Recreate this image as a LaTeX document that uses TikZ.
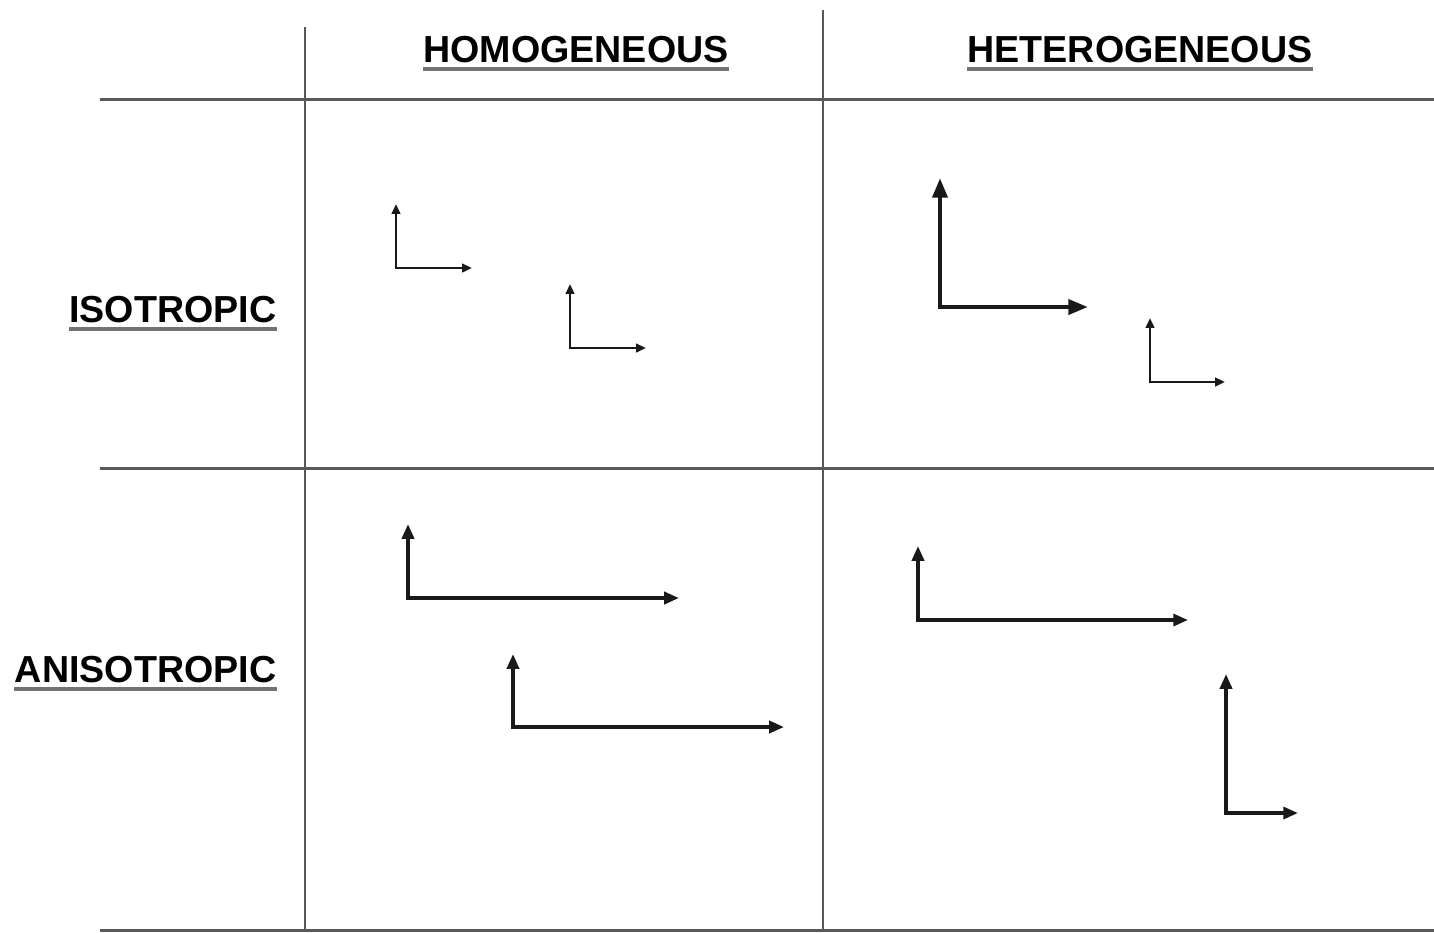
\documentclass[tikz,border=0pt]{standalone}
\usepackage{fontspec}
\setmainfont{Liberation Sans}
\usetikzlibrary{arrows.meta}
\tikzset{
  vrule/.style={black!65,line width=0.6pt},
  hrule/.style={black!65,line width=0.85pt},
  hdr/.style={font=\fontsize{10.7}{12}\selectfont\bfseries,inner sep=0pt},
  uline/.style={black!55,line width=1pt},
  thinax/.style={black!90,line width=0.7pt,
    arrows={Triangle[length=2.8pt,width=2.4pt]-Triangle[length=2.8pt,width=2.4pt]}},
  midax/.style={black!90,line width=1pt,
    arrows={Triangle[length=4.2pt,width=3.4pt]-Triangle[length=4.2pt,width=3.4pt]}},
  thickax/.style={black!90,line width=1.25pt,
    arrows={Triangle[length=5.6pt,width=4.2pt]-Triangle[length=5.6pt,width=4.2pt]}}
}
\begin{document}
\begin{tikzpicture}[x=0.01cm,y=-0.01cm]
  \useasboundingbox (0,0) rectangle (1434,932);
  % table rules
  \draw[hrule] (100,99) -- (1434,99);
  \draw[hrule] (100,468) -- (1434,468);
  \draw[hrule] (100,930) -- (1434,930);
  \draw[vrule] (305,27) -- (305,932);
  \draw[vrule] (823,10) -- (823,932);
  % headings
  \node[hdr,anchor=base] (hom) at (576,62) {HOMOGENEOUS};
  \node[hdr,anchor=base] (het) at (1140,62) {HETEROGENEOUS};
  \node[hdr,anchor=base east] (iso) at (277,322) {ISOTROPIC};
  \node[hdr,anchor=base east] (aniso) at (277,682) {ANISOTROPIC};
  \foreach \n in {hom,het,iso,aniso}
    \draw[uline] ([yshift=-2pt]\n.base west) -- ([yshift=-2pt]\n.base east);
  % homogeneous, isotropic
  \coordinate (a0) at (396,268);
  \coordinate (ay) at (396,204);
  \coordinate (ax) at (472,268);
  \draw[thinax] (ay) -- (a0) -- (ax);
  \coordinate (b0) at (570,348);
  \coordinate (by) at (570,284);
  \coordinate (bx) at (646,348);
  \draw[thinax] (by) -- (b0) -- (bx);
  % heterogeneous, isotropic
  \coordinate (c0) at (940,307);
  \coordinate (cy) at (940,178);
  \coordinate (cx) at (1088,307);
  \draw[thickax] (cy) -- (c0) -- (cx);
  \coordinate (d0) at (1150,382);
  \coordinate (dy) at (1150,318);
  \coordinate (dx) at (1225,382);
  \draw[thinax] (dy) -- (d0) -- (dx);
  % homogeneous, anisotropic
  \coordinate (e0) at (408,598);
  \coordinate (ey) at (408,524);
  \coordinate (ex) at (679,598);
  \draw[midax] (ey) -- (e0) -- (ex);
  \coordinate (f0) at (513,727);
  \coordinate (fy) at (513,654);
  \coordinate (fx) at (784,727);
  \draw[midax] (fy) -- (f0) -- (fx);
  % heterogeneous, anisotropic
  \coordinate (g0) at (918,620);
  \coordinate (gy) at (918,546);
  \coordinate (gx) at (1188,620);
  \draw[midax] (gy) -- (g0) -- (gx);
  \coordinate (h0) at (1226,813);
  \coordinate (hy) at (1226,674);
  \coordinate (hx) at (1298,813);
  \draw[midax] (hy) -- (h0) -- (hx);
\end{tikzpicture}
\end{document}
